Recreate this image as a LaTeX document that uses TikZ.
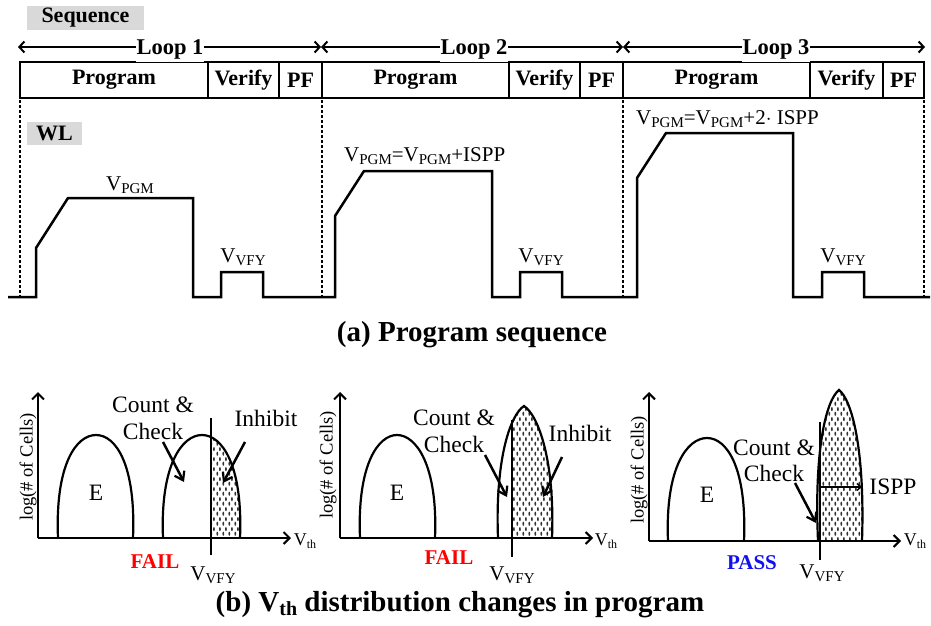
\documentclass[tikz,border=0pt]{standalone}
\usepackage{fontspec}
\setmainfont{Liberation Serif}
\usetikzlibrary{arrows.meta,patterns}

% speckle fill for the programmed (inhibited) cells
\pgfdeclarepatternformonly{cellspeckle}{\pgfpointorigin}{\pgfpoint{6pt}{10pt}}{\pgfpoint{6pt}{10pt}}{%
  \pgfpathellipse{\pgfpoint{1.5pt}{2.5pt}}{\pgfpoint{1.0pt}{0pt}}{\pgfpoint{0pt}{2.3pt}}%
  \pgfpathellipse{\pgfpoint{4.5pt}{7.5pt}}{\pgfpoint{1.0pt}{0pt}}{\pgfpoint{0pt}{2.3pt}}%
  \pgfusepath{fill}}

\newcommand\fs[1]{\fontsize{#1}{#1}\selectfont}
\newcommand\lowsub[1]{\raisebox{-0.3ex}{\fs{15}#1}}
\newcommand\vsym[1]{V\lowsub{#1}}

\definecolor{tagfill}{HTML}{D9D9D9}
\definecolor{failred}{HTML}{FF0000}
\definecolor{passblue}{HTML}{1010F0}

\begin{document}
\begin{tikzpicture}[x=1pt,y=-1pt,
  framebox/.style={draw,line width=2.5pt},
  seglabel/.style={font=\fs{22}\bfseries},
  looplabel/.style={fill=white,font=\fs{22.5}\bfseries,inner xsep=1pt,minimum height=25pt},
  looparrow/.style={line width=2.5pt,{Straight Barb[length=5pt,width=11pt,line width=2pt]}-{Straight Barb[length=5pt,width=11pt,line width=2pt]}},
  sepline/.style={line width=2.5pt,dash pattern=on 3pt off 2pt},
  wave/.style={line width=2.5pt,line join=miter},
  tag/.style={fill=tagfill,font=\fs{22}\bfseries,inner sep=0pt},
  volt/.style={font=\fs{21}},
  axis/.style={line width=2.5pt,-{Straight Barb[length=6pt,width=12pt,line width=2pt]}},
  hump/.style={line width=2.2pt},
  pointer/.style={line width=2.5pt,-{Straight Barb[length=8pt,width=11pt,line width=2.2pt]}},
  note/.style={font=\fs{23.5},align=center,inner sep=0pt},
  verdict/.style={font=\fs{21}\bfseries},
  ylab/.style={font=\fs{18.5},rotate=90},
  title/.style={font=\fs{29}\bfseries}
]
\useasboundingbox (0,0) rectangle (931,626);

% ---------- (a) program sequence ----------
\node[tag,minimum width=117pt,minimum height=24pt] (seq) at (85.5,18) {Sequence};

% loop boundaries
\coordinate (b0) at (18,47);
\coordinate (b1) at (321,47);
\coordinate (b2) at (623,47);
\coordinate (b3) at (925,47);
\draw[looparrow] (b0) -- (b1);
\draw[looparrow] (b1) -- (b2);
\draw[looparrow] (b2) -- (b3);

% phase boxes
\draw[framebox] (20,62) rectangle (208,98);
\draw[framebox] (208,62) rectangle (279,98);
\draw[framebox] (279,62) rectangle (322,98);
\draw[framebox] (322,62) rectangle (509,98);
\draw[framebox] (509,62) rectangle (580,98);
\draw[framebox] (580,62) rectangle (623,98);
\draw[framebox] (623,62) rectangle (810,98);
\draw[framebox] (810,62) rectangle (883,98);
\draw[framebox] (883,62) rectangle (924,98);

\node[looplabel] (loop1) at (170,49) {Loop 1};
\node[looplabel] (loop2) at (474,49) {Loop 2};
\node[looplabel] (loop3) at (776,49) {Loop 3};

\node[seglabel] (prog1) at (114,80) {Program};
\node[seglabel] (ver1)  at (243.5,80) {Verify};
\node[seglabel] (pf1)   at (300.5,80) {PF};
\node[seglabel] (prog2) at (415.5,80) {Program};
\node[seglabel] (ver2)  at (544.5,80) {Verify};
\node[seglabel] (pf2)   at (601.5,80) {PF};
\node[seglabel] (prog3) at (716.5,80) {Program};
\node[seglabel] (ver3)  at (846.5,80) {Verify};
\node[seglabel] (pf3)   at (903.5,80) {PF};

% loop separators
\draw[sepline] (20,100) -- (20,298);
\draw[sepline] (322,100) -- (322,298);
\draw[sepline] (623,100) -- (623,298);
\draw[sepline] (924,100) -- (924,298);

\node[tag,minimum width=55pt,minimum height=23pt] (wl) at (54.5,133.5) {WL};

% word-line waveform
\draw[wave] (8,297) -- (36,297) -- (36,248) -- (68,198) -- (193,198) -- (193,297)
  -- (221,297) -- (221,272) -- (263,272) -- (263,297)
  -- (335,297) -- (335,216) -- (364,171) -- (492,171) -- (492,297)
  -- (520,297) -- (520,272) -- (562,272) -- (562,297)
  -- (637,297) -- (637,178) -- (666,133) -- (793,133) -- (793,297)
  -- (822,297) -- (822,272) -- (864,272) -- (864,297) -- (930,297);

\node[volt] (vpgm1) at (130,185) {\vsym{PGM}};
\node[volt] (vvfy1) at (243,257) {\vsym{VFY}};
\node[volt,anchor=west,inner sep=0pt] (vpgm2) at (344,156) {\vsym{PGM}=\vsym{PGM}+ISPP};
\node[volt] (vvfy2) at (541,257) {\vsym{VFY}};
\node[volt,anchor=west,inner sep=0pt] (vpgm3) at (636,119) {\vsym{PGM}=\vsym{PGM}+2$\cdot$ ISPP};
\node[volt] (vvfy3) at (843,257) {\vsym{VFY}};

\node[title] (titlea) at (472,335) {(a) Program sequence};

% ---------- (b) Vth distributions ----------
% panel 1
\begin{scope}
  \clip (211,380) rectangle (300,540);
  \fill[pattern=cellspeckle,pattern color=black!80]
    (163,538) .. controls (160,465) and (182,435) .. (202,435)
    .. controls (222,435) and (243,465) .. (240,538) -- cycle;
\end{scope}
\draw[hump] (58,538) .. controls (55,465) and (76,435) .. (96,435)
  .. controls (116,435) and (136,465) .. (133,538);
\draw[hump] (163,538) .. controls (160,465) and (182,435) .. (202,435)
  .. controls (222,435) and (243,465) .. (240,538);
\coordinate (o1) at (38,538);
\coordinate (y1) at (38,392);
\coordinate (x1) at (291,538);
\draw[axis] (o1) -- (y1);
\draw[axis] (o1) -- (x1);
\draw[line width=2.5pt] (211,418) -- (211,555);
\node[ylab] (yl1) at (28,467) {log(\# of Cells)};
\node[volt,font=\fs{18}] (vth1) at (305,541) {V\raisebox{-0.3ex}{\fs{12}th}};
\node[note] (e1) at (96,493) {E};
\node[note] (cc1) at (153,418.5) {Count \&\\[3pt]Check};
\node[note] (inh1) at (266,418) {Inhibit};
\coordinate (cc1s) at (163,442);
\coordinate (cc1t) at (184,482);
\coordinate (inh1s) at (245,442);
\coordinate (inh1t) at (223,483);
\draw[pointer] (cc1s) -- (cc1t);
\draw[pointer] (inh1s) -- (inh1t);
\node[verdict,text=failred] (fail1) at (155,562) {FAIL};
\node[volt] (vvfyb1) at (213,575) {\vsym{VFY}};

% panel 2
\begin{scope}
  \clip (512,380) rectangle (600,540);
  \fill[pattern=cellspeckle,pattern color=black!80]
    (498,538) .. controls (495,460) and (510,415) .. (524,406)
    .. controls (538,415) and (555,460) .. (552,538) -- cycle;
\end{scope}
\draw[hump] (360,538) .. controls (357,465) and (378,435) .. (397,435)
  .. controls (416,435) and (438,465) .. (435,538);
\draw[hump] (498,538) .. controls (495,460) and (510,415) .. (524,406)
  .. controls (538,415) and (555,460) .. (552,538);
\coordinate (o2) at (340,538);
\coordinate (y2) at (340,392);
\coordinate (x2) at (593,538);
\draw[axis] (o2) -- (y2);
\draw[axis] (o2) -- (x2);
\draw[line width=2.5pt] (512,420) -- (512,557);
\node[ylab] (yl2) at (328,465) {log(\# of Cells)};
\node[volt,font=\fs{18}] (vth2) at (606,541) {V\raisebox{-0.3ex}{\fs{12}th}};
\node[note] (e2) at (397,493) {E};
\node[note] (cc2) at (454,431.5) {Count \&\\[3pt]Check};
\node[note] (inh2) at (580,433) {Inhibit};
\coordinate (cc2s) at (485,455);
\coordinate (cc2t) at (507,497);
\coordinate (inh2s) at (562,457);
\coordinate (inh2t) at (543,497);
\draw[pointer] (cc2s) -- (cc2t);
\draw[pointer] (inh2s) -- (inh2t);
\node[verdict,text=failred] (fail2) at (449,558) {FAIL};
\node[volt] (vvfyb2) at (512,575) {\vsym{VFY}};

% panel 3
\fill[pattern=cellspeckle,pattern color=black!80]
  (818,541) .. controls (814,450) and (826,400) .. (839,390)
  .. controls (852,400) and (865,450) .. (862,541) -- cycle;
\draw[hump] (668,541) .. controls (665,468) and (687,438) .. (707,438)
  .. controls (727,438) and (747,468) .. (744,541);
\draw[hump] (818,541) .. controls (814,450) and (826,400) .. (839,390)
  .. controls (852,400) and (865,450) .. (862,541);
\coordinate (o3) at (649,541);
\coordinate (y3) at (649,392);
\coordinate (x3) at (901,541);
\draw[axis] (o3) -- (y3);
\draw[axis] (o3) -- (x3);
\draw[line width=2.5pt] (820,422) -- (820,560);
\node[ylab] (yl3) at (639,470) {log(\# of Cells)};
\node[volt,font=\fs{18}] (vth3) at (915,541) {V\raisebox{-0.3ex}{\fs{12}th}};
\node[note] (e3) at (707,495) {E};
\node[note] (cc3) at (774,461) {Count \&\\[3pt]Check};
\coordinate (cc3s) at (795,483);
\coordinate (cc3t) at (816,523);
\draw[pointer] (cc3s) -- (cc3t);
\node[note] (ispp) at (893,487) {ISPP};
\coordinate (shift0) at (820,487);
\coordinate (shift1) at (862,487);
\draw[line width=1.6pt,-{Straight Barb[length=4pt,width=7pt,line width=1.4pt]}] (shift0) -- (shift1);
\node[verdict,text=passblue] (pass3) at (752,563) {PASS};
\node[volt] (vvfyb3) at (822,573) {\vsym{VFY}};

\node[title] (titleb) at (460,605) {(b) V\raisebox{-0.3ex}{\fs{20}th} distribution changes in program};
\end{tikzpicture}
\end{document}
